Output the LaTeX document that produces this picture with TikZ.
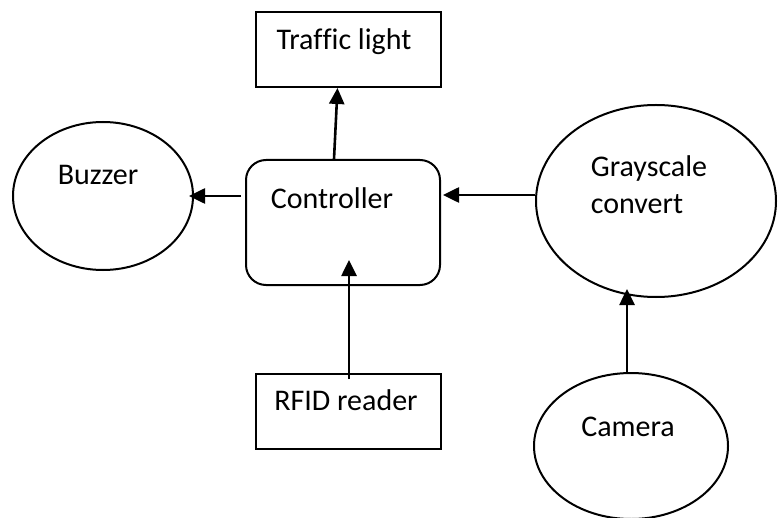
\documentclass[tikz,border=0pt]{standalone}
\usepackage{fontspec}
\setmainfont[Ligatures=NoCommon]{Carlito}
\usetikzlibrary{shapes.geometric,arrows.meta}

\tikzset{
  box/.style={draw, line width=2pt, minimum width=185pt, minimum height=75pt, inner sep=0pt},
  ctrlbox/.style={draw, line width=2pt, rounded corners=20pt, minimum width=194pt, minimum height=125pt, inner sep=0pt},
  oval/.style={draw, ellipse, line width=2pt, inner sep=0pt},
  txt/.style={font=\fontsize{30}{37}\selectfont, align=left, inner sep=0pt},
  arr/.style={line width=2.6pt, -{Triangle[length=16pt,width=15pt]}}
}

\begin{document}
\begin{tikzpicture}[x=1pt, y=-1pt]
    \useasboundingbox (0,0) rectangle (783,518);

    \node[box] (light) at (348.5,49.5) {};
    \node[ctrlbox] (ctrl) at (343,222.5) {};
    \node[box] (rfid) at (348.5,411.5) {};
    \node[oval, minimum width=180pt, minimum height=148pt] (buzzer) at (103,196) {};
    \node[oval, minimum width=240pt, minimum height=192pt] (gray) at (656,201) {};
    \node[oval, minimum width=194pt, minimum height=146pt] (camera) at (631,446) {};

    \node[txt] (lighttxt) at (344,42) {Traf\kern0ptf\kern0ptic light};
    \node[txt] (ctrltxt) at (332,198) {Controller};
    \node[txt] (rfidtxt) at (346,400) {RFID reader};
    \node[txt] (buzzertxt) at (98,175) {Buzzer};
    \node[txt] (graytxt) at (649,185) {Grayscale\\convert};
    \node[txt] (cameratxt) at (628,427) {Camera};

    \draw[arr] ([xshift=-9pt]ctrl.north) -- ([xshift=-11pt]light.south);
    \draw[arr] ([xshift=-4pt,yshift=26.5pt]ctrl.west) -- ([xshift=-5pt]buzzer.east);
    \draw[arr] ([yshift=6pt]gray.west) -- ([xshift=2pt,yshift=27.5pt]ctrl.east);
    \draw[arr] ([xshift=0.5pt,yshift=-6pt]rfid.north) -- ([xshift=6pt,yshift=26pt]ctrl.south);
    \draw[arr] ([xshift=-4pt]camera.north) -- ([xshift=-29pt,yshift=9pt]gray.south);
\end{tikzpicture}
\end{document}
